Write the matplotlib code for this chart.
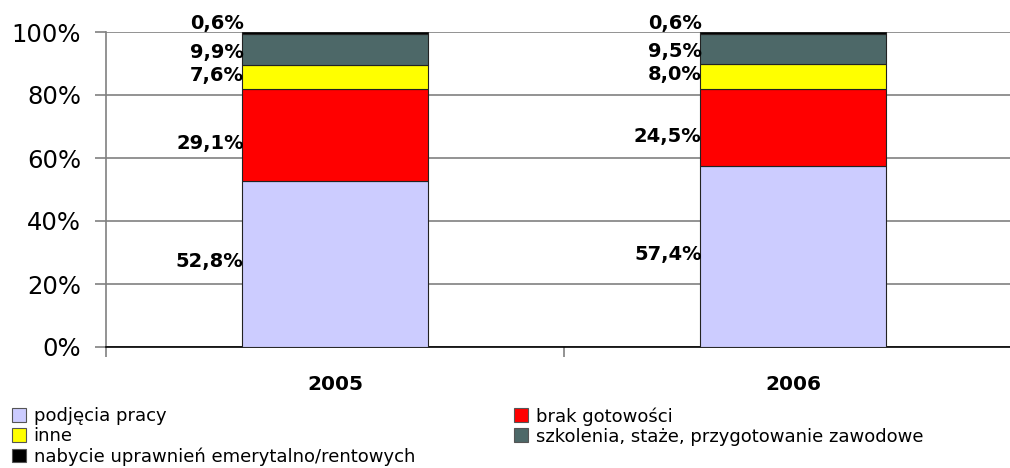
import matplotlib
matplotlib.use("Agg")
import matplotlib.pyplot as plt
from matplotlib.patches import Patch
import numpy as np

years = ["2005", "2006"]
series = [
    "podjęcia pracy",
    "brak gotowości",
    "inne",
    "szkolenia, staże, przygotowanie zawodowe",
    "nabycie uprawnień emerytalno/rentowych",
]
values = [
    [52.8, 57.4],
    [29.1, 24.5],
    [7.6, 8.0],
    [9.9, 9.5],
    [0.6, 0.6],
]
colors = ["#CCCCFF", "#FF0000", "#FFFF00", "#4D6868", "#000000"]
# vertical nudge of the value labels (pixels), to keep them apart
label_shift = [2, -9, 2, -3, 9]

plt.rcParams["font.family"] = "DejaVu Sans"

fig = plt.figure(figsize=(10.1, 4.68), dpi=100)
ax = fig.add_axes([106 / 1010, 1 - 347 / 468, 916 / 1010, 315 / 468])

x = np.arange(len(years))
width = 0.405
bottom = np.zeros(len(years))
for name, vals, col, dy in zip(series, values, colors, label_shift):
    vals = np.array(vals)
    ax.bar(x, vals, width, bottom=bottom, color=col, edgecolor="#222222", linewidth=0.8, zorder=3)
    for xi, v, b in zip(x, vals, bottom):
        ax.annotate(f"{v:.1f}%".replace(".", ","), (xi - width / 2, b + v / 2),
                    xytext=(1, dy * 0.72), textcoords="offset points",
                    ha="right", va="center", fontsize=14, fontweight="bold", zorder=5)
    bottom += vals

ax.set_xlim(-0.5, 1.5)
ax.set_ylim(0, 100)
ax.set_yticks(np.arange(0, 101, 20))
ax.set_yticklabels([f"{t}%" for t in range(0, 101, 20)], fontsize=17.5)
ax.yaxis.grid(True, color="#808080", linewidth=1.2, zorder=0)
ax.tick_params(axis="y", length=8, width=1.2, color="#808080", pad=10)

ax.set_xticks(x)
ax.set_xticklabels(years, fontsize=14.5, fontweight="bold")
ax.set_xticks([-0.5, 0.5, 1.5], minor=True)
ax.tick_params(axis="x", which="major", length=0, pad=20)
ax.tick_params(axis="x", which="minor", length=7, width=1.2, color="#808080")

for s in ["top", "right"]:
    ax.spines[s].set_visible(False)
ax.spines["left"].set_color("#808080")
ax.spines["left"].set_linewidth(1.2)
ax.spines["bottom"].set_color("#000000")
ax.spines["bottom"].set_linewidth(1.2)

handles = [Patch(facecolor=c, edgecolor="#555555", linewidth=0.8) for c in colors]
leg_kw = dict(frameon=False, fontsize=13, handlelength=0.8, handleheight=0.8,
              handletextpad=0.4, labelspacing=0.12, borderpad=0, borderaxespad=0)
fig.legend([handles[0], handles[2], handles[4]], [series[0], series[2], series[4]],
           loc="upper left", bbox_to_anchor=(12 / 1010, 1 - 407 / 468), **leg_kw)
fig.legend([handles[1], handles[3]], [series[1], series[3]],
           loc="upper left", bbox_to_anchor=(514 / 1010, 1 - 407 / 468), **leg_kw)

fig.savefig("out.png", dpi=100)
